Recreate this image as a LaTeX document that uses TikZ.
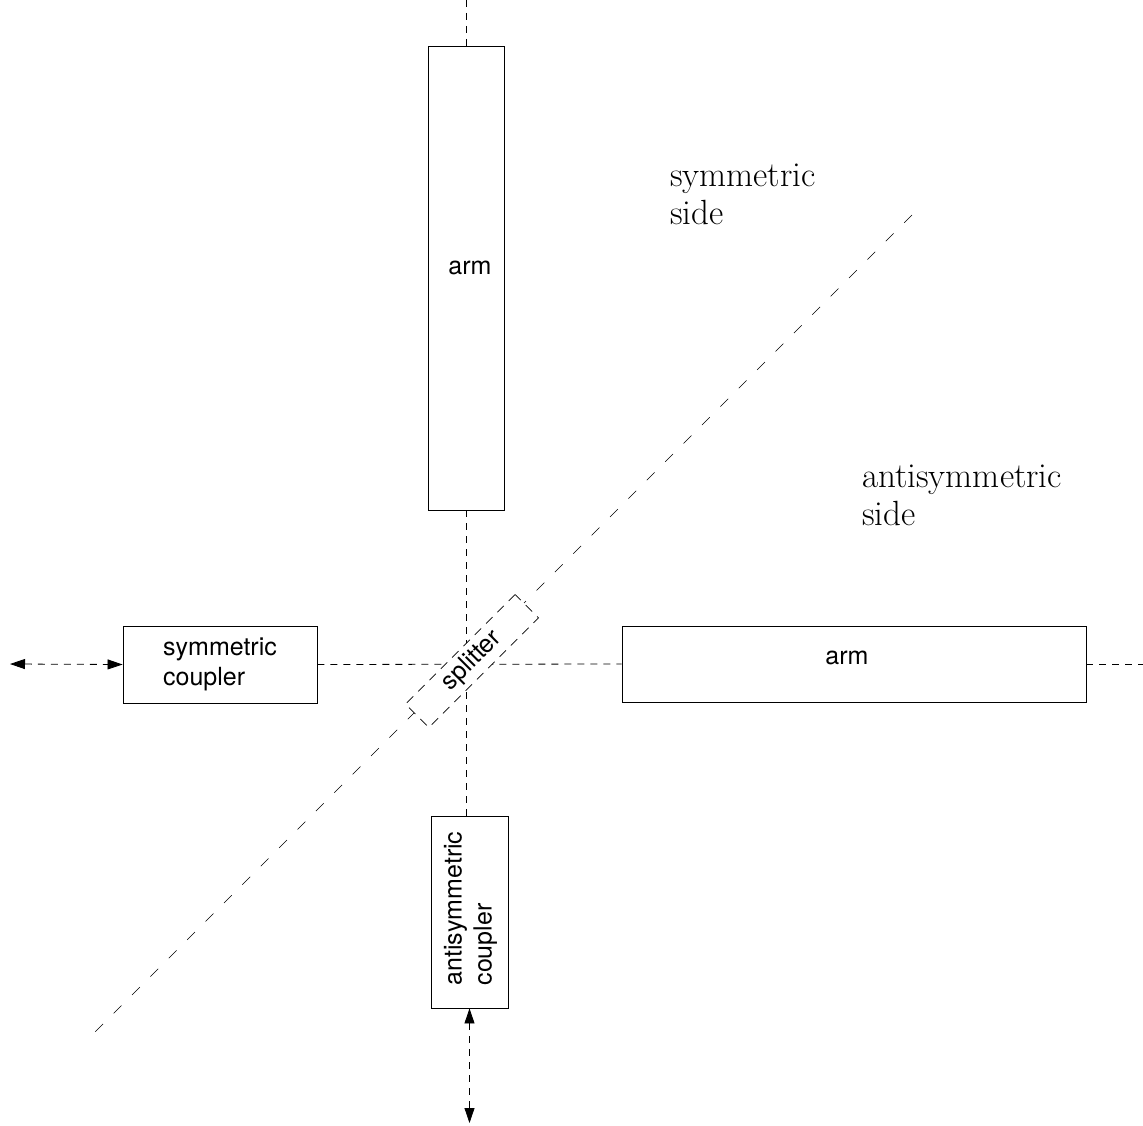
\documentclass[tikz,border=0pt]{standalone}
\usepackage{fontspec}
\newfontfamily\helv{TeX Gyre Heros}
\usetikzlibrary{arrows.meta,backgrounds}
\begin{document}
\begin{tikzpicture}[x=1pt,y=-1pt,
  box/.style={draw, line width=0.9pt, fill=white, inner sep=0pt},
  lbl/.style={font=\helv\fontsize{25}{30}\selectfont, inner sep=0pt, align=left},
  sidelbl/.style={font=\fontsize{35}{37.5}\selectfont, inner sep=0pt, align=left, anchor=north west},
  axis/.style={line width=0.8pt, dash pattern=on 7pt off 6pt},
  diag/.style={line width=0.6pt, dash pattern=on 11pt off 15pt},
  splitbox/.style={draw, line width=0.8pt, dash pattern=on 9pt off 7pt, fill=white, inner sep=0pt},
  tips/.style={{Triangle[length=15pt,width=10pt]}-{Triangle[length=15pt,width=10pt]}}
]
\useasboundingbox (0,0) rectangle (1143,1126);
% boxes
\node[box, minimum width=76pt, minimum height=464pt] (armtop) at (466,278) {};
\node[box, minimum width=464pt, minimum height=76pt] (armright) at (854,664) {};
\node[box, lbl, minimum width=194pt, minimum height=77pt] (scoup) at (220,664.5) {symmetric\\coupler};
\node[box, minimum width=77pt, minimum height=192pt] (acoup) at (469.5,912) {};
\node[lbl, rotate=90] (acouplbl) at (470.5,908.5) {antisymmetric\\coupler};
\node[splitbox, lbl, rotate=45, minimum width=155pt, minimum height=33pt] (split) at (472,661) {splitter};
\node[lbl] (armtoplbl) at (470,268) {arm};
\node[lbl] (armrightlbl) at (847,658) {arm};
% free ends
\coordinate (ttop) at (466,0);
\coordinate (rend) at (1143,664);
\coordinate (lend) at (10,664);
\coordinate (bend) at (469.5,1123);
\coordinate (d1) at (912,215);
\coordinate (d2) at (90,1037);
\begin{scope}[on background layer]
\draw[axis] (ttop) -- (armtop.north);
\draw[axis] (armtop.south) -- (armtop.south |- acoup.north);
\draw[axis] (scoup.east) -- (armright.west);
\draw[axis] (armright.east) -- (rend);
\draw[diag] (d1) -- (d2);
\end{scope}
\draw[axis, tips] (lend) -- (scoup.west);
\draw[axis, tips] (acoup.south) -- (bend);
% side labels
\node[sidelbl] (symside) at (670,164) {symmetric\\side};
\node[sidelbl] (antiside) at (862,465) {antisymmetric\\side};
\end{tikzpicture}
\end{document}
